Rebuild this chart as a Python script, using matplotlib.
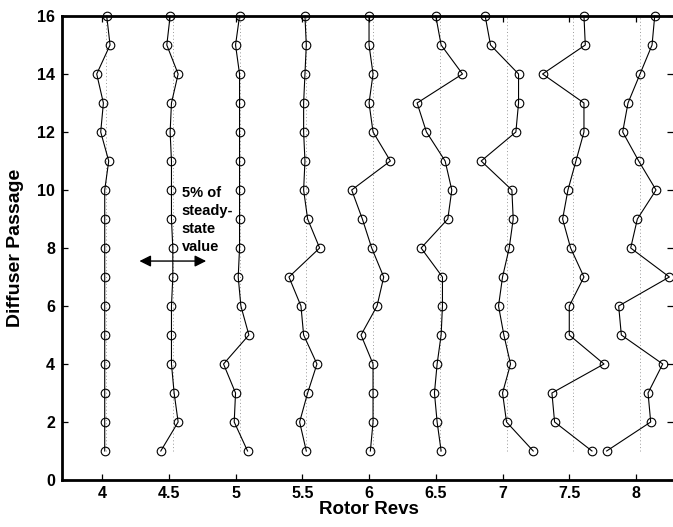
import matplotlib
matplotlib.use("Agg")
import matplotlib.pyplot as plt
import numpy as np

plt.rcParams['font.family'] = ['Liberation Sans', 'DejaVu Sans']
plt.rcParams['font.weight'] = 'bold'

passages = list(range(1, 17))
baselines = [4.0, 4.5, 5.0, 5.5, 6.0, 6.5, 7.0, 7.5, 8.0]
steady = [4.03, 4.53, 5.03, 5.53, 6.03, 6.53, 7.03, 7.53, 8.03]

# x values for passages 1..16
s40 = [4.02, 4.02, 4.02, 4.02, 4.02, 4.02, 4.02, 4.02, 4.02, 4.02, 4.05, 3.99, 4.01, 3.96, 4.06, 4.035]
s45 = [4.44, 4.57, 4.54, 4.52, 4.52, 4.52, 4.53, 4.53, 4.52, 4.52, 4.52, 4.51, 4.52, 4.57, 4.485, 4.51]
s50 = [5.09, 4.99, 5.00, 4.91, 5.10, 5.04, 5.02, 5.03, 5.03, 5.03, 5.03, 5.03, 5.03, 5.03, 5.00, 5.03]
s55 = [5.53, 5.48, 5.54, 5.61, 5.51, 5.49, 5.40, 5.63, 5.54, 5.51, 5.52, 5.51, 5.51, 5.52, 5.53, 5.52]
s60 = [6.01, 6.03, 6.03, 6.03, 5.94, 6.06, 6.11, 6.02, 5.95, 5.87, 6.16, 6.03, 6.00, 6.03, 6.00, 6.00]
s65 = [6.54, 6.51, 6.49, 6.51, 6.54, 6.55, 6.55, 6.39, 6.59, 6.62, 6.57, 6.43, 6.36, 6.70, 6.54, 6.50]
s70 = [7.23, 7.03, 7.00, 7.06, 7.01, 6.97, 7.00, 7.05, 7.08, 7.07, 6.84, 7.10, 7.12, 7.12, 6.91, 6.87]
s75 = [7.67, 7.39, 7.37, 7.76, 7.50, 7.50, 7.61, 7.51, 7.45, 7.49, 7.55, 7.61, 7.61, 7.30, 7.62, 7.61]
s80 = [7.78, 8.11, 8.09, 8.20, 7.89, 7.87, 8.25, 7.96, 8.01, 8.15, 8.02, 7.90, 7.94, 8.03, 8.12, 8.14]
series = [s40, s45, s50, s55, s60, s65, s70, s75, s80]

xticks = [4, 4.5, 5, 5.5, 6, 6.5, 7, 7.5, 8]
xticklabels = ['4', '4.5', '5', '5.5', '6', '6.5', '7', '7.5', '8']
yticks = list(range(0, 17, 2))

fig = plt.figure(figsize=(6.73, 5.27), dpi=100)
ax = fig.add_axes([62/673, 47/527, 1 - 62/673, (480-16)/527])

for st in steady:
    ax.plot([st, st], [1, 16], linestyle=(0, (1, 2.5)), color='0.6', linewidth=0.7, zorder=1)

for s in series:
    ax.plot(s, passages, color='black', linewidth=0.8, marker='o', markersize=6.2,
            markerfacecolor='none', markeredgecolor='black', markeredgewidth=0.8,
            clip_on=False, zorder=3)

ax.set_xlim(3.7, 8.277)
ax.set_ylim(0, 16)
ax.set_xticks(xticks)
ax.set_xticklabels(xticklabels)
ax.set_yticks(yticks)

ax.tick_params(direction='in', length=4, width=0.9, top=True, right=True,
               labelsize=11.5)
ax.tick_params(axis='x', pad=4)
ax.tick_params(axis='y', pad=5)
for lab in ax.get_xticklabels() + ax.get_yticklabels():
    lab.set_fontweight('bold')

for side in ['left', 'bottom', 'top']:
    ax.spines[side].set_linewidth(2)
ax.spines['right'].set_visible(False)

ax.set_xlabel('Rotor Revs', fontsize=13.5, fontweight='bold')
ax.set_ylabel('Diffuser Passage', fontsize=14, fontweight='bold')
ax.xaxis.set_label_coords(0.502, -0.046)
ax.yaxis.set_label_coords(-0.062, 0.5)

ax.annotate('', xy=(4.28, 7.55), xytext=(4.78, 7.55),
            arrowprops=dict(arrowstyle='<|-|>', color='black', lw=1.0,
                            mutation_scale=17, shrinkA=0, shrinkB=0))
ax.text(4.597, 10.15, '5% of\nsteady-\nstate\nvalue', fontsize=10.5, fontweight='bold',
        ha='left', va='top', linespacing=1.36)

fig.savefig('out.png', dpi=100)
